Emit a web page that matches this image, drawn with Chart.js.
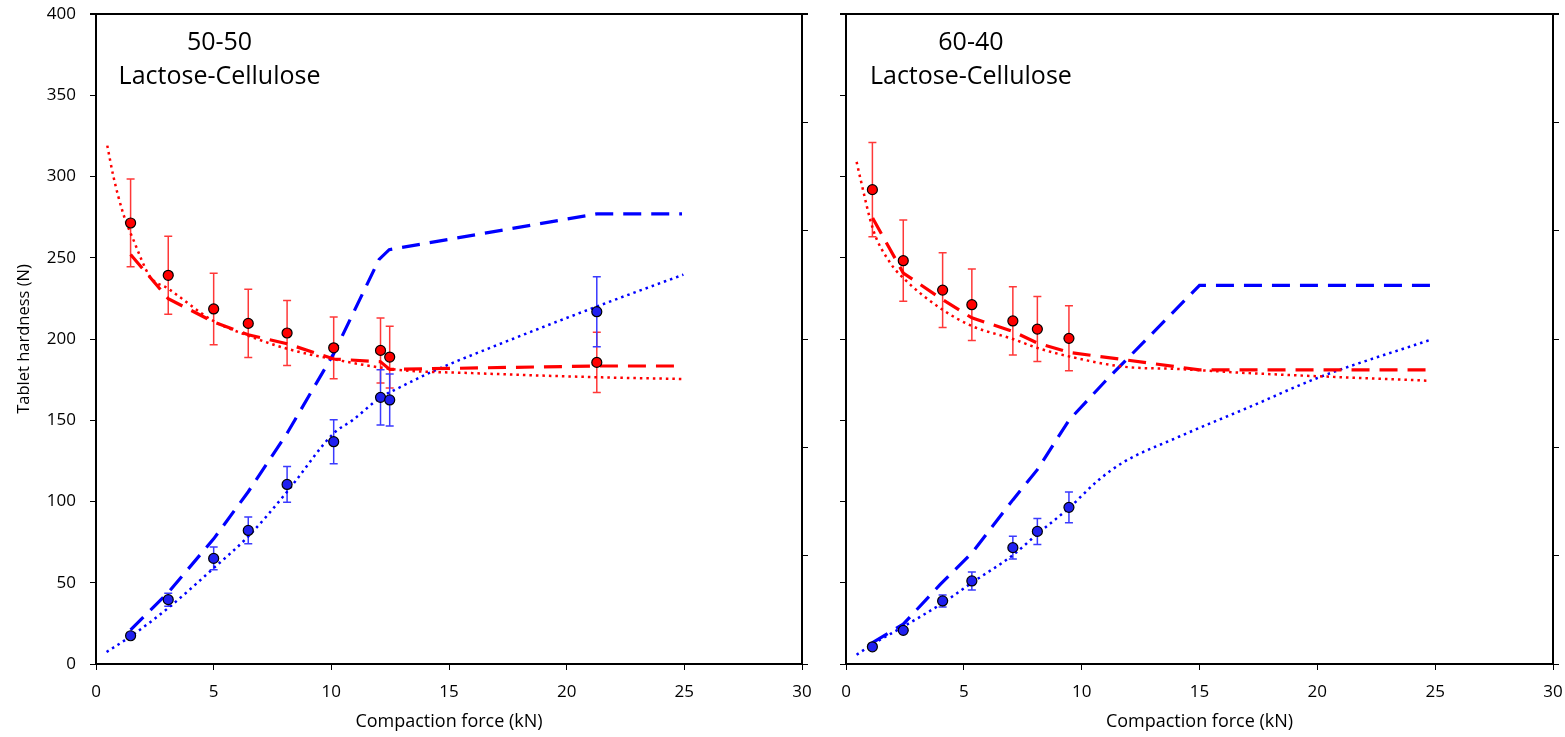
<!DOCTYPE html>
<html>
<head>
<meta charset="utf-8">
<script src="https://cdn.jsdelivr.net/npm/chart.js@4.4.0/dist/chart.umd.min.js"></script>
<style>
    html, body { margin: 0; padding: 0; background: #fff; }
    #wrap { position: relative; width: 1565px; height: 737px; overflow: hidden; }
    canvas { position: absolute; top: 0; }
    #chartLeft { left: 0; }
    #chartRight { left: 820px; }
</style>
</head>
<body>
<div id="wrap">
    <canvas id="chartLeft" width="820" height="737"></canvas>
    <canvas id="chartRight" width="745" height="737"></canvas>
</div>
<script>
// ---- 50-50 lactose-cellulose: measured hardness (N) vs compaction force (kN)
const force5050 = [1.47, 3.07, 5.0, 6.47, 8.12, 10.1, 12.09, 12.48, 21.28];
const red5050 = [271.4, 239.2, 218.5, 209.6, 203.7, 194.6, 193.0, 188.9, 185.6];
const redErr5050 = [27, 24, 22, 21, 20, 19, 20, 19, 18.5];
const blue5050 = [17.4, 39.6, 65.0, 82.2, 110.5, 136.8, 164.1, 162.5, 216.8];
const blueErr5050 = [1.5, 4, 7, 8.2, 11, 13.5, 17, 16, 21.5];

// 50-50 model curves
const redDashX5050 = [1.47, 3.07, 5.0, 6.47, 8.12, 10.1, 12.09, 12.48, 21.28, 24.7];
const redDashY5050 = [252, 224.8, 210.5, 202.6, 197.1, 187.7, 186, 181.3, 183.4, 183.4];
const redDotX5050 = [0.48, 0.74, 1.16, 1.59, 2.29, 3.07, 5.0, 6.47, 8.12, 10.1, 12.88, 16, 21.5, 24.9];
const redDotY5050 = [319, 300, 277, 261, 238.5, 231, 211, 202, 194, 187.5, 181, 179, 176.4, 175.4];
const blueDashX5050 = [1.47, 3.07, 5.0, 6.47, 8.12, 10.1, 12.03, 12.46, 21.28, 24.9];
const blueDashY5050 = [21, 44, 77, 106, 142, 191, 249, 255, 277, 277];
const blueDotX5050 = [0.45, 1.47, 3.07, 5.0, 6.47, 8.12, 8.5, 10.1, 10.9, 12.09, 12.88, 14.3, 17, 21.28, 24.96];
const blueDotY5050 = [7.4, 17, 34.5, 59, 78.5, 106, 113, 142, 150, 164, 170, 180, 196, 220, 239.6];

// ---- 60-40 lactose-cellulose
const force6040 = [1.12, 2.43, 4.1, 5.34, 7.08, 8.12, 9.46];
const red6040 = [291.9, 248.2, 230.1, 221.1, 211.1, 206.1, 200.4];
const redErr6040 = [29, 25, 23, 22, 21, 20, 20];
const blue6040 = [10.6, 20.7, 38.8, 51.1, 71.6, 81.6, 96.4];
const blueErr6040 = [0, 0, 3.7, 5.5, 7, 8, 9.5];

// 60-40 model curves
const redDashX6040 = [1.13, 2.43, 4.1, 5.34, 7.08, 8.12, 9.46, 15, 24.7];
const redDashY6040 = [274.5, 240.6, 224.2, 213, 204.7, 197.5, 191.8, 181, 181];
const redDotX6040 = [0.45, 0.59, 1.16, 1.87, 2.43, 4.1, 5.34, 7.08, 8.12, 9.46, 11.75, 14.15, 17.1, 24.75];
const redDotY6040 = [309, 300, 267, 247, 237.5, 218, 208, 200, 194.5, 189.3, 183, 181.5, 179, 174.3];
const blueDashX6040 = [1.11, 2.43, 4.0, 5.34, 7.08, 8.12, 9.46, 11.0, 15.0, 25.0];
const blueDashY6040 = [13, 24.5, 49, 68.3, 101, 119.6, 150, 174, 233, 233];
const blueDotX6040 = [0.45, 1.11, 2.43, 4.1, 5.34, 7.08, 8.12, 9.46, 10.7, 11.75, 14.15, 17.1, 20, 24.8];
const blueDotY6040 = [5.7, 12, 23, 37.5, 50, 67, 80, 96, 113, 124, 140, 158, 176, 199.5];

// Axis tick values
const xTicks = [0, 5, 10, 15, 20, 25, 30];
const yTicks = [0, 50, 100, 150, 200, 250, 300, 350, 400];

const RED = '#ff0000';
const BLUE = '#0000ff';
const FONT = '"Open Sans", "Liberation Sans", sans-serif';

function toPoints(xs, ys) {
    return xs.map((x, i) => ({ x: x, y: ys[i] }));
}

// Draws vertical error bars with caps under the markers
const errorBarPlugin = {
    id: 'errorBars',
    beforeDatasetsDraw(chart) {
        const ctx = chart.ctx;
        const xs = chart.scales.x;
        const ys = chart.scales.y;
        chart.data.datasets.forEach(ds => {
            if (!ds.errors) return;
            ctx.save();
            ctx.strokeStyle = ds.errorColor;
            ctx.lineWidth = 1.5;
            ds.data.forEach((p, j) => {
                const e = ds.errors[j];
                if (!e) return;
                const px = xs.getPixelForValue(p.x);
                const top = ys.getPixelForValue(p.y + e);
                const bot = ys.getPixelForValue(p.y - e);
                ctx.beginPath();
                ctx.moveTo(px, top); ctx.lineTo(px, bot);
                ctx.moveTo(px - 4, top); ctx.lineTo(px + 4, top);
                ctx.moveTo(px - 4, bot); ctx.lineTo(px + 4, bot);
                ctx.stroke();
            });
            ctx.restore();
        });
    }
};

// Top frame line and the panel caption
const framePlugin = {
    id: 'frame',
    afterDraw(chart, args, opts) {
        const ctx = chart.ctx;
        const area = chart.chartArea;
        ctx.save();
        ctx.strokeStyle = '#000';
        ctx.lineWidth = 1.8;
        ctx.beginPath();
        ctx.moveTo(area.left - 6, area.top);
        ctx.lineTo(area.right + 6, area.top);
        ctx.stroke();

        ctx.fillStyle = '#000';
        ctx.font = '25px ' + FONT;
        ctx.textAlign = 'center';
        ctx.textBaseline = 'middle';
        const px = chart.scales.x.getPixelForValue(opts.labelX);
        opts.lines.forEach((txt, i) => {
            ctx.fillText(txt, px, chart.scales.y.getPixelForValue(opts.labelY[i]));
        });
        ctx.restore();
    }
};

function buildConfig(d, showYLabels, leftWidth, rightWidth, caption) {
    const datasets = [
        {
            type: 'scatter', data: toPoints(d.force, d.red), errors: d.redErr, errorColor: '#ff3838',
            pointRadius: 5, pointBackgroundColor: RED, pointBorderColor: '#000', pointBorderWidth: 1.2, order: 0
        },
        {
            type: 'scatter', data: toPoints(d.force, d.blue), errors: d.blueErr, errorColor: '#3a3aff',
            pointRadius: 5, pointBackgroundColor: '#2020f0', pointBorderColor: '#000', pointBorderWidth: 1.2, order: 0
        },
        {
            type: 'line', data: toPoints(d.redDashX, d.redDashY), borderColor: RED, borderWidth: 3.2,
            borderDash: [18, 10], pointRadius: 0, fill: false, tension: 0, order: 1
        },
        {
            type: 'line', data: toPoints(d.redDotX, d.redDotY), borderColor: RED, borderWidth: 2.5,
            borderDash: [2.5, 4], pointRadius: 0, fill: false, cubicInterpolationMode: 'monotone', order: 1
        },
        {
            type: 'line', data: toPoints(d.blueDashX, d.blueDashY), borderColor: BLUE, borderWidth: 3.2,
            borderDash: [18, 10], pointRadius: 0, fill: false, tension: 0, order: 1
        },
        {
            type: 'line', data: toPoints(d.blueDotX, d.blueDotY), borderColor: BLUE, borderWidth: 2.5,
            borderDash: [2.5, 4], pointRadius: 0, fill: false, cubicInterpolationMode: 'monotone', order: 1
        }
    ];

    return {
        data: { datasets: datasets },
        options: {
            responsive: false,
            animation: false,
            layout: { padding: { top: 14, left: 0, right: 0, bottom: 0 } },
            plugins: {
                legend: { display: false },
                tooltip: { enabled: false },
                frame: caption
            },
            scales: {
                x: {
                    type: 'linear', min: 0, max: 30,
                    afterBuildTicks: s => { s.ticks = xTicks.map(v => ({ value: v })); },
                    ticks: { color: '#000', font: { family: FONT, size: 17 }, padding: 12, maxRotation: 0 },
                    grid: { drawOnChartArea: false, drawTicks: true, tickLength: 6, color: '#000', tickWidth: 1 },
                    border: { color: '#000', width: 2 },
                    title: {
                        display: true, text: 'Compaction force (kN)', color: '#000',
                        font: { family: FONT, size: 18 }, padding: { top: 0, bottom: 4 }
                    },
                    afterFit: s => {
                        s.height = 73;
                        s.paddingLeft = 0;
                        s.paddingRight = 0;
                    }
                },
                y: {
                    type: 'linear', position: 'left', min: 0, max: 400,
                    afterBuildTicks: s => { s.ticks = yTicks.map(v => ({ value: v })); },
                    ticks: { display: showYLabels, color: '#000', font: { family: FONT, size: 17 }, padding: 14 },
                    grid: { drawOnChartArea: false, drawTicks: true, tickLength: 6, color: '#000', tickWidth: 1 },
                    border: { color: '#000', width: 2 },
                    title: {
                        display: showYLabels, text: 'Tablet hardness (N)', color: '#000',
                        font: { family: FONT, size: 16.5 }, padding: { top: 14, bottom: 0 }
                    },
                    afterFit: s => {
                        s.width = leftWidth;
                        s.paddingTop = 0;
                        s.paddingBottom = 0;
                    }
                },
                y2: {
                    type: 'linear', position: 'right', min: 0, max: 6,
                    ticks: { display: false, stepSize: 1 },
                    grid: { drawOnChartArea: false, drawTicks: true, tickLength: 6, color: '#000', tickWidth: 1 },
                    border: { color: '#000', width: 2 },
                    afterFit: s => {
                        s.width = rightWidth;
                        s.paddingTop = 0;
                        s.paddingBottom = 0;
                    }
                }
            }
        },
        plugins: [errorBarPlugin, framePlugin]
    };
}

const data5050 = {
    force: force5050, red: red5050, redErr: redErr5050, blue: blue5050, blueErr: blueErr5050,
    redDashX: redDashX5050, redDashY: redDashY5050, redDotX: redDotX5050, redDotY: redDotY5050,
    blueDashX: blueDashX5050, blueDashY: blueDashY5050, blueDotX: blueDotX5050, blueDotY: blueDotY5050
};
const data6040 = {
    force: force6040, red: red6040, redErr: redErr6040, blue: blue6040, blueErr: blueErr6040,
    redDashX: redDashX6040, redDashY: redDashY6040, redDotX: redDotX6040, redDotY: redDotY6040,
    blueDashX: blueDashX6040, blueDashY: blueDashY6040, blueDotX: blueDotX6040, blueDotY: blueDotY6040
};

new Chart(document.getElementById('chartLeft').getContext('2d'),
    buildConfig(data5050, true, 96, 18, { lines: ['50-50', 'Lactose-Cellulose'], labelX: 5.25, labelY: [382.5, 361.2] }));

new Chart(document.getElementById('chartRight').getContext('2d'),
    buildConfig(data6040, false, 26, 12, { lines: ['60-40', 'Lactose-Cellulose'], labelX: 5.3, labelY: [382.5, 361.2] }));
</script>
</body>
</html>
